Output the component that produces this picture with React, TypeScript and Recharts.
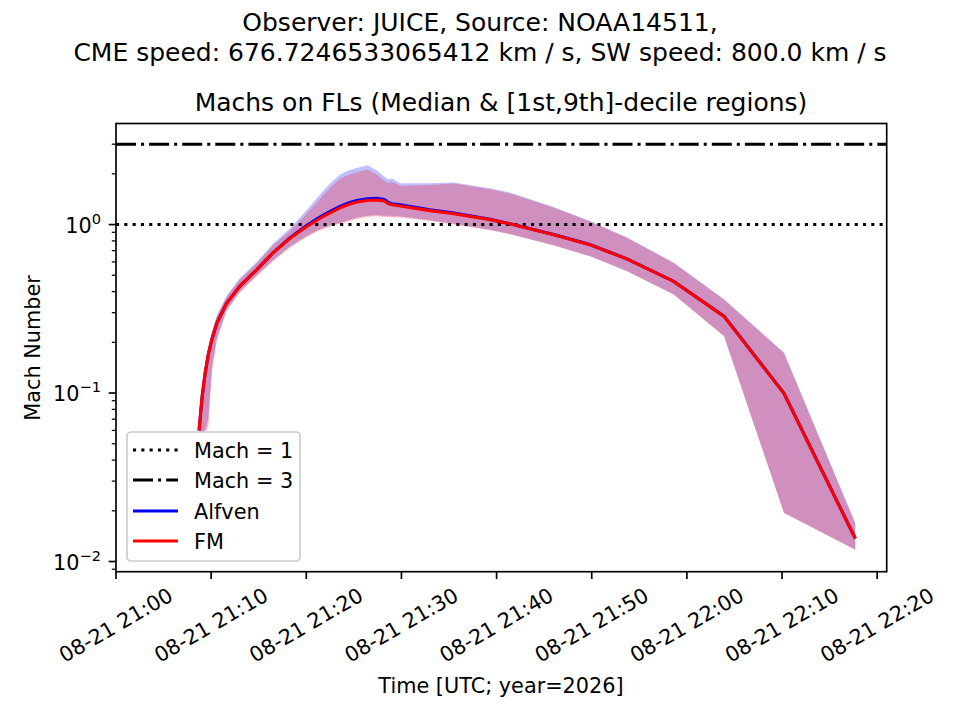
import { ComposedChart, Area, Line, XAxis, YAxis, ReferenceLine } from "recharts";

// minutes after 08-21 21:00 UTC
const TIMES = [
  8.73, 9.05, 9.36, 9.7, 10.1, 10.6, 11.6, 13.0, 14.8, 16.5, 18.3, 20.0, 21.0, 21.8, 22.7, 23.6, 24.5,
  25.3, 26.4, 27.4, 28.2, 28.6, 29.0, 29.9, 33.0, 35.5, 39.3, 41.4, 46.0, 49.8, 53.7, 58.6, 63.9, 70.2, 77.7,
];

const FM_MED = [
  0.06, 0.095, 0.13, 0.17, 0.21, 0.26, 0.34, 0.43, 0.54, 0.68, 0.83, 0.97, 1.05, 1.12, 1.19, 1.26, 1.32,
  1.36, 1.39, 1.4, 1.38, 1.33, 1.31, 1.29, 1.21, 1.16, 1.07, 1.01, 0.87, 0.76, 0.625, 0.46, 0.285, 0.0995, 0.0137,
];
const FM_LOW = [
  0.057, 0.058, 0.059, 0.062, 0.135, 0.205, 0.305, 0.393, 0.493, 0.605, 0.73, 0.84, 0.9, 0.94, 0.98, 1.01, 1.05,
  1.08, 1.11, 1.12, 1.11, 1.11, 1.105, 1.1, 1.05, 1.0, 0.925, 0.875, 0.75, 0.648, 0.528, 0.384, 0.217, 0.0194, 0.0117,
];
const FM_HIGH = [
  0.062, 0.103, 0.14, 0.185, 0.23, 0.285, 0.37, 0.47, 0.59, 0.75, 0.92, 1.15, 1.33, 1.5, 1.7, 1.88, 1.98,
  2.04, 2.12, 1.98, 1.82, 1.76, 1.79, 1.7, 1.72, 1.75, 1.62, 1.53, 1.26, 1.046, 0.834, 0.592, 0.359, 0.173, 0.0168,
];

const ALF_MED = [
  0.06, 0.095, 0.13, 0.17, 0.21, 0.26, 0.34, 0.43, 0.54, 0.68, 0.835, 0.985, 1.07, 1.14, 1.215, 1.285, 1.35,
  1.39, 1.42, 1.43, 1.41, 1.355, 1.33, 1.31, 1.225, 1.17, 1.075, 1.01, 0.872, 0.762, 0.626, 0.461, 0.286, 0.0997, 0.0137,
];
const ALF_LOW = [
  0.058, 0.059, 0.06, 0.07, 0.145, 0.21, 0.31, 0.4, 0.5, 0.615, 0.74, 0.853, 0.914, 0.954, 0.995, 1.025, 1.066,
  1.096, 1.127, 1.137, 1.127, 1.127, 1.12, 1.117, 1.06, 1.01, 0.93, 0.88, 0.755, 0.65, 0.53, 0.386, 0.218, 0.0195, 0.0118,
];
const ALF_HIGH = [
  0.063, 0.104, 0.142, 0.187, 0.233, 0.29, 0.375, 0.48, 0.6, 0.77, 0.95, 1.21, 1.41, 1.59, 1.8, 1.99, 2.1,
  2.17, 2.25, 2.1, 1.92, 1.85, 1.88, 1.76, 1.76, 1.78, 1.64, 1.55, 1.27, 1.05, 0.838, 0.595, 0.36, 0.174, 0.0169,
];

const X_TICKS = [0, 10, 20, 30, 40, 50, 60, 70, 80];
const X_LABELS = [
  "08-21 21:00", "08-21 21:10", "08-21 21:20", "08-21 21:30", "08-21 21:40",
  "08-21 21:50", "08-21 22:00", "08-21 22:10", "08-21 22:20",
];
const Y_TICKS = [
  0.009, 0.01, 0.02, 0.03, 0.04, 0.05, 0.06, 0.07, 0.08, 0.09,
  0.1, 0.2, 0.3, 0.4, 0.5, 0.6, 0.7, 0.8, 0.9, 1, 2, 3,
];

const data = TIMES.map((t, i) => ({
  t,
  fmMed: FM_MED[i],
  fmBand: [FM_LOW[i], FM_HIGH[i]],
  alfMed: ALF_MED[i],
  alfBand: [ALF_LOW[i], ALF_HIGH[i]],
}));

const FONT = "DejaVu Sans, sans-serif";
const W = 960;
const H = 720;
const LEFT = 116;
const RIGHT = 886.7;
const TOP = 123.5;
const BOTTOM = 571.7;

const XTick = ({ x, y, payload }: any) => {
  const i = X_TICKS.indexOf(payload.value);
  const cy = y + 53.5;
  return (
    <g>
      <line x1={x} x2={x} y1={y} y2={y + 7.3} stroke="#000" strokeWidth={1.67} />
      <text
        x={x}
        y={cy}
        textAnchor="middle"
        dominantBaseline="central"
        transform={`rotate(-30, ${x}, ${cy})`}
        fontFamily={FONT}
        fontSize={20.8}
        fill="#000"
      >
        {X_LABELS[i]}
      </text>
    </g>
  );
};

const YTick = ({ x, y, payload }: any) => {
  const lg = Math.log10(payload.value);
  const e = Math.round(lg);
  const major = Math.abs(lg - e) < 1e-6;
  if (!major) {
    return <line x1={x - 4.2} x2={x} y1={y} y2={y} stroke="#000" strokeWidth={1.25} />;
  }
  const exp = e < 0 ? `\u2212${-e}` : `${e}`;
  return (
    <g>
      <line x1={x - 7.3} x2={x} y1={y} y2={y} stroke="#000" strokeWidth={1.67} />
      <text x={x - 15} y={y + 8} textAnchor="end" fontFamily={FONT} fontSize={20.8} fill="#000">
        10
        <tspan dy={-9} fontSize={14.6}>
          {exp}
        </tspan>
      </text>
    </g>
  );
};

const Overlay = () => (
  <svg
    width={W}
    height={H}
    style={{ position: "absolute", left: 0, top: 0, pointerEvents: "none" }}
    fontFamily={FONT}
  >
    <rect x={LEFT} y={TOP} width={RIGHT - LEFT} height={BOTTOM - TOP} fill="none" stroke="#000" strokeWidth={1.67} />
    <text x={480} y={31} textAnchor="middle" fontSize={25}>
      Observer: JUICE, Source: NOAA14511,
    </text>
    <text x={480} y={61} textAnchor="middle" fontSize={25}>
      CME speed: 676.7246533065412 km / s, SW speed: 800.0 km / s
    </text>
    <text x={501} y={111} textAnchor="middle" fontSize={25}>
      Machs on FLs (Median &amp; [1st,9th]-decile regions)
    </text>
    <text x={501} y={693} textAnchor="middle" fontSize={20.8}>
      Time [UTC; year=2026]
    </text>
    <text x={40} y={348} textAnchor="middle" fontSize={20.8} transform="rotate(-90, 40, 348)">
      Mach Number
    </text>
    <g>
      <rect x={127} y={432} width={173} height={129} rx={4} fill="#fff" fillOpacity={0.8} stroke="#cccccc" strokeWidth={1.67} />
      <line x1={133} x2={178} y1={450} y2={450} stroke="#000" strokeWidth={3.1} strokeDasharray="3.1 5.2" />
      <line x1={133} x2={178} y1={480} y2={480} stroke="#000" strokeWidth={3.1} strokeDasharray="20 5 3.1 5" />
      <line x1={133} x2={178} y1={511} y2={511} stroke="#0000ff" strokeWidth={3.1} />
      <line x1={133} x2={178} y1={541} y2={541} stroke="#ff0000" strokeWidth={3.1} />
      <text x={194} y={457.5} fontSize={20.8}>Mach = 1</text>
      <text x={194} y={487.5} fontSize={20.8}>Mach = 3</text>
      <text x={194} y={518.5} fontSize={20.8}>Alfven</text>
      <text x={194} y={548.5} fontSize={20.8}>FM</text>
    </g>
  </svg>
);

export default function App() {
  return (
    <div style={{ position: "absolute", left: 0, top: 0, width: W, height: H, background: "#fff" }}>
      <ComposedChart
        width={W}
        height={H}
        data={data}
        margin={{ top: TOP, right: W - RIGHT, left: 0, bottom: H - BOTTOM - 100 }}
      >
        <XAxis
          dataKey="t"
          type="number"
          domain={[0, 81]}
          allowDataOverflow
          ticks={X_TICKS}
          interval={0}
          tick={<XTick />}
          tickSize={0}
          tickMargin={0}
          tickLine={false}
          axisLine={false}
          height={100}
        />
        <YAxis
          scale="log"
          type="number"
          domain={[0.0087, 3.98]}
          allowDataOverflow
          ticks={Y_TICKS}
          interval={0}
          tick={<YTick />}
          tickSize={0}
          tickMargin={0}
          tickLine={false}
          axisLine={false}
          width={LEFT}
        />
        <Area
          dataKey="alfBand"
          stroke="none"
          fill="#0000ff"
          fillOpacity={0.25}
          isAnimationActive={false}
          activeDot={false}
        />
        <Area
          dataKey="fmBand"
          stroke="none"
          fill="#ff0000"
          fillOpacity={0.25}
          isAnimationActive={false}
          activeDot={false}
        />
        <ReferenceLine y={1} stroke="#000" strokeWidth={3.1} strokeDasharray="3.1 5.2" />
        <ReferenceLine y={3} stroke="#000" strokeWidth={3.1} strokeDasharray="20 5 3.1 5" />
        <Line dataKey="alfMed" stroke="#0000ff" strokeWidth={3.1} dot={false} isAnimationActive={false} />
        <Line dataKey="fmMed" stroke="#ff0000" strokeWidth={3.1} dot={false} isAnimationActive={false} />
      </ComposedChart>
      <Overlay />
    </div>
  );
}
